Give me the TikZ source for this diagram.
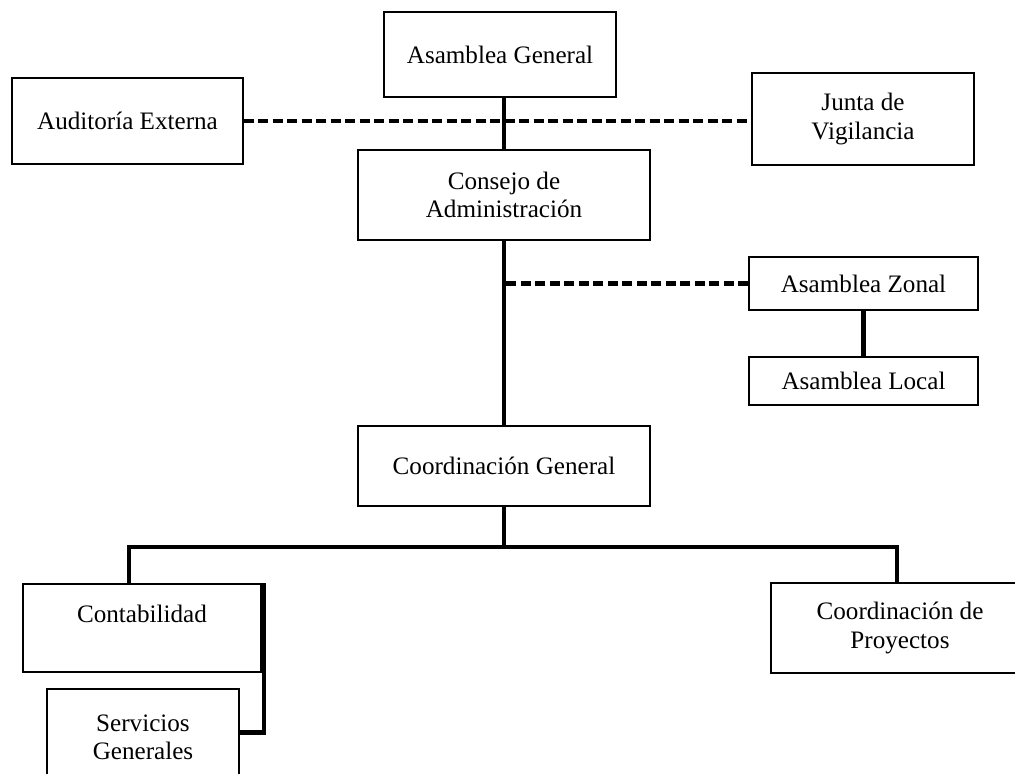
\documentclass[tikz,border=0pt]{standalone}
\usepackage{fontspec}
\setmainfont{Liberation Serif}
\begin{document}
\begin{tikzpicture}[every node/.style={rectangle,draw,line width=0.8pt,align=center,inner sep=0pt,font=\fontsize{14.3}{16}\selectfont},
        link/.style={line width=2.3pt},
        dashlink/.style={line width=2.3pt,dash pattern=on 0.2cm off 0.09cm}]
        \useasboundingbox (0,0) rectangle (20.3,-15.46);

        \node[minimum width=4.64cm,minimum height=1.70cm] at (10.00,-1.09) (asamblea) {Asamblea General};
        \node[minimum width=4.62cm,minimum height=1.72cm] at (2.55,-2.42) (auditoria) {Auditoría Externa};
        \node[minimum width=4.44cm,minimum height=1.84cm] at (17.26,-2.38) (junta) {Junta de\\Vigilancia};
        \node[minimum width=5.84cm,minimum height=1.80cm] at (10.08,-3.90) (consejo) {Consejo de\\Administración};
        \node[minimum width=4.58cm,minimum height=1.06cm] at (17.27,-5.67) (zonal) {Asamblea Zonal};
        \node[minimum width=4.58cm,minimum height=0.96cm] at (17.27,-7.62) (local) {Asamblea Local};
        \node[minimum width=5.84cm,minimum height=1.60cm] at (10.08,-9.32) (coordgen) {Coordinación General};
        \node[minimum width=4.76cm,minimum height=1.76cm] at (2.84,-12.56) (contab) {Contabilidad\\~};
        \node[minimum width=3.84cm,minimum height=1.94cm] at (2.86,-14.75) (servicios) {Servicios\\Generales};
        \node[minimum width=5.16cm,minimum height=1.80cm] at (18.00,-12.56) (proyectos) {Coordinación de\\Proyectos};

        \coordinate (busl) at (2.58,-10.94);
        \coordinate (busr) at (17.94,-10.94);

        \draw[dashlink] (auditoria.east) -- (auditoria.east -| junta.west);
        \draw[link] (consejo.north) -- (consejo.north |- asamblea.south);
        \draw[link] (consejo) -- (coordgen);
        \draw[dashlink] (zonal.west) -- (zonal.west -| consejo.south);
        \draw[link] (zonal) -- (local);

        \draw[link] (coordgen.south) -- (coordgen.south |- busl);
        \draw[link] (contab.north -| busl) -- (busl) -- (busr) -- (proyectos.north -| busr);
        \draw[link] ([xshift=0.04cm]contab.north east) |- ([yshift=0.1cm]servicios.east);
    \end{tikzpicture}
\end{document}
